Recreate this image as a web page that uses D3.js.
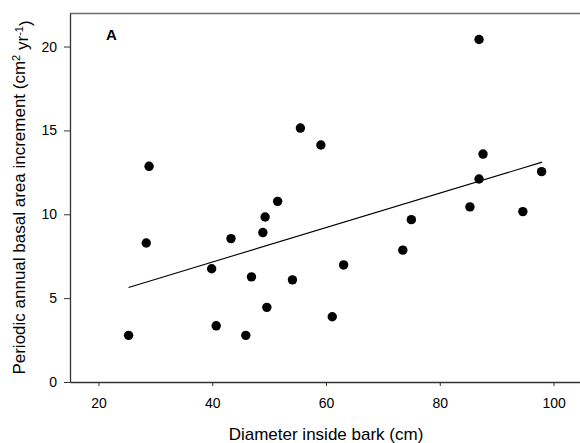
<!DOCTYPE html>
<html>
<head>
<meta charset="utf-8">
<script src="https://cdn.jsdelivr.net/npm/d3@7"></script>
<style>
  body { margin: 0; background: #fff; }
  svg text { font-family: "Liberation Sans", Arial, sans-serif; fill: #000; }
</style>
</head>
<body>
<svg width="580" height="443"></svg>
<script>
// diameter inside bark (cm)
let diameter = [28.9, 28.4, 25.3, 40.7, 45.9, 39.9, 43.3, 46.9, 48.9, 49.3, 49.6,
    51.5, 55.5, 59.1, 54.1, 63.1, 61.1, 73.5, 75.0, 86.9, 87.6, 86.9, 97.9, 85.3, 94.6];
// periodic annual basal area increment (cm2 yr-1)
let increment = [12.86, 8.29, 2.78, 3.35, 2.78, 6.75, 8.55, 6.27, 8.91, 9.84, 4.45,
    10.77, 15.14, 14.13, 6.09, 6.98, 3.89, 7.86, 9.68, 20.42, 13.59, 12.10, 12.54, 10.44, 10.16];

// fitted line endpoints
let fitX = [25.3, 98.0];
let fitY = [5.64, 13.11];

let xTicks = [20, 40, 60, 80, 100];
let yTicks = [0, 5, 10, 15, 20];

let svg = d3.select("svg"),
    plotLeft = 70, plotTop = 13, plotRight = 582, plotBottom = 382;

let x = d3.scaleLinear().domain([15, 105]).range([plotLeft, plotRight]);
let y = d3.scaleLinear().domain([0, 22]).range([plotBottom, plotTop]);

// top frame line
svg.append("line")
    .attr("x1", plotLeft).attr("x2", plotRight)
    .attr("y1", plotTop + 0.5).attr("y2", plotTop + 0.5)
    .attr("stroke", "#6e6e6e")
    .attr("stroke-width", 1.3);

let xAxis = svg.append("g")
    .attr("transform", "translate(0," + plotBottom + ")")
    .call(d3.axisBottom(x).tickValues(xTicks).tickSize(4).tickPadding(12).tickSizeOuter(0));

let yAxis = svg.append("g")
    .attr("transform", "translate(" + plotLeft + ",0)")
    .call(d3.axisLeft(y).tickValues(yTicks).tickSize(6).tickPadding(7).tickSizeOuter(0));

[xAxis, yAxis].forEach(g => {
    g.select(".domain").attr("stroke", "#333").attr("stroke-width", 1.3);
    g.selectAll(".tick line").attr("stroke", "#333");
    g.selectAll(".tick text")
        .style("font-family", "'Liberation Sans', Arial, sans-serif")
        .style("font-size", "14px")
        .attr("fill", "#000");
});

// regression line
svg.append("line")
    .attr("x1", x(fitX[0])).attr("y1", y(fitY[0]))
    .attr("x2", x(fitX[1])).attr("y2", y(fitY[1]))
    .attr("stroke", "#000")
    .attr("stroke-width", 1.1);

// points
svg.append("g")
    .selectAll("circle")
    .data(diameter).enter().append("circle")
        .attr("cx", d => x(d))
        .attr("cy", (d, i) => y(increment[i]))
        .attr("r", 4.7)
        .attr("fill", "#000");

// panel letter
svg.append("text")
    .attr("x", 106)
    .attr("y", 40)
    .style("font-size", "15px")
    .style("font-weight", "bold")
    .text("A");

// axis titles
svg.append("text")
    .attr("x", (plotLeft + plotRight) / 2)
    .attr("y", 440)
    .attr("text-anchor", "middle")
    .style("font-size", "17px")
    .text("Diameter inside bark (cm)");

let yt = svg.append("text")
    .attr("transform", "translate(25," + (plotTop + plotBottom) / 2 + ") rotate(-90)")
    .attr("text-anchor", "middle")
    .style("font-size", "17px");
yt.append("tspan").text("Periodic annual basal area increment (cm");
yt.append("tspan").attr("dy", "-0.5em").style("font-size", "11px").text("2");
yt.append("tspan").attr("dy", "0.5em").text(" yr");
yt.append("tspan").attr("dy", "-0.5em").style("font-size", "11px").text("-1");
yt.append("tspan").attr("dy", "0.5em").text(")");
</script>
</body>
</html>
